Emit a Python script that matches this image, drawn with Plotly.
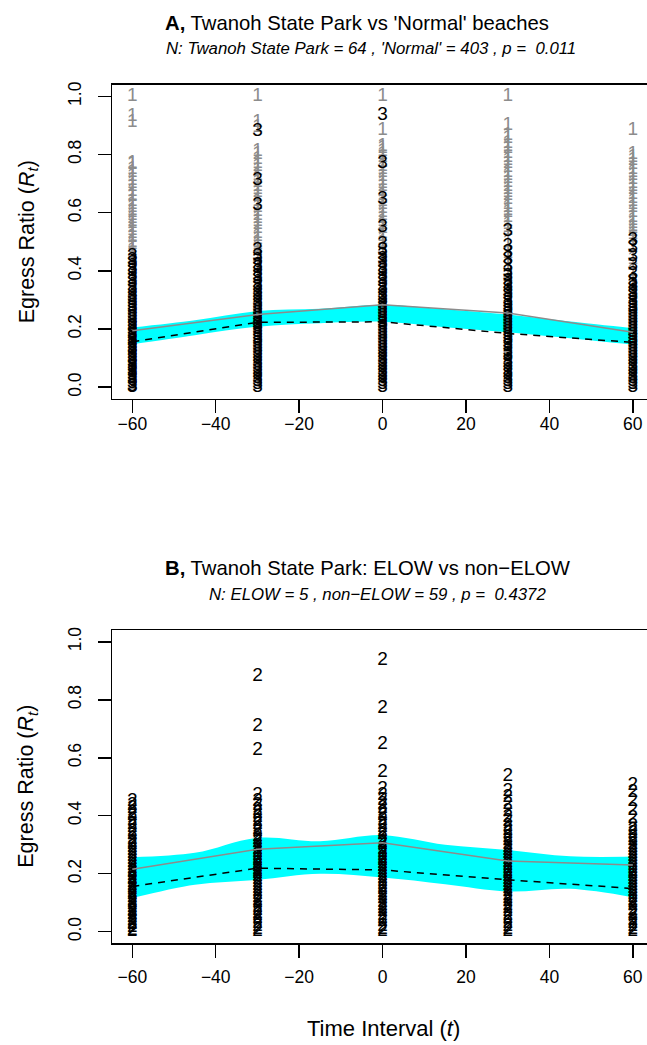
import plotly.graph_objects as go

# ---------------- data ----------------
times = [-60, -30, 0, 30, 60]
x_ticks = [-60, -40, -20, 0, 20, 40, 60]
y_ticks = [0.0, 0.2, 0.4, 0.6, 0.8, 1.0]
y_ticklabels = ["0.0", "0.2", "0.4", "0.6", "0.8", "1.0"]

n_twanoh = 64
n_normal = 403
p_A = "0.011"
n_elow = 5
n_nonelow = 59
p_B = "0.4372"

# 'Normal' beaches egress ratios (grey "1"), per time interval
normal_m60 = [1.00, 0.93, 0.91, 0.77, 0.765, 0.75, 0.74, 0.725, 0.71, 0.70, 0.69, 0.675, 0.66, 0.655,
              0.64, 0.63, 0.62, 0.61, 0.60, 0.59, 0.58, 0.57, 0.565, 0.55, 0.54, 0.53, 0.52, 0.515,
              0.50, 0.49, 0.48, 0.47, 0.46, 0.44, 0.42, 0.39, 0.36, 0.33, 0.30, 0.27, 0.24, 0.21,
              0.18, 0.15, 0.12, 0.09, 0.06, 0.03, 0.01]
normal_m30 = [1.00, 0.91, 0.895, 0.81, 0.80, 0.785, 0.77, 0.76, 0.745, 0.73, 0.72, 0.705, 0.69, 0.68,
              0.67, 0.655, 0.64, 0.63, 0.62, 0.605, 0.59, 0.58, 0.57, 0.56, 0.545, 0.53, 0.52, 0.51,
              0.50, 0.49, 0.48, 0.47, 0.45, 0.42, 0.38, 0.34, 0.30, 0.26, 0.22, 0.18, 0.14, 0.10,
              0.06, 0.02]
normal_0 = [1.00, 0.885, 0.83, 0.82, 0.81, 0.80, 0.79, 0.775, 0.76, 0.75, 0.74, 0.725, 0.71, 0.70,
            0.69, 0.675, 0.66, 0.65, 0.64, 0.63, 0.615, 0.60, 0.59, 0.58, 0.57, 0.56, 0.545, 0.53,
            0.52, 0.51, 0.50, 0.47, 0.43, 0.39, 0.35, 0.31, 0.27, 0.23, 0.19, 0.15, 0.11, 0.07, 0.03]
normal_30 = [1.00, 0.90, 0.865, 0.855, 0.84, 0.83, 0.82, 0.805, 0.79, 0.78, 0.77, 0.755, 0.74, 0.73,
             0.72, 0.705, 0.69, 0.68, 0.67, 0.66, 0.645, 0.63, 0.62, 0.61, 0.60, 0.585, 0.57, 0.56,
             0.55, 0.54, 0.50, 0.46, 0.42, 0.38, 0.34, 0.30, 0.26, 0.22, 0.18, 0.14, 0.10, 0.06, 0.02]
normal_60 = [0.885, 0.80, 0.79, 0.78, 0.765, 0.75, 0.74, 0.73, 0.715, 0.70, 0.69, 0.68, 0.665, 0.65,
             0.64, 0.63, 0.62, 0.60, 0.585, 0.575, 0.565, 0.555, 0.545, 0.535, 0.525, 0.515, 0.48,
             0.44, 0.40, 0.36, 0.32, 0.28, 0.24, 0.20, 0.16, 0.12, 0.08, 0.04, 0.01]

# Twanoh State Park egress ratios (black "3" in A, "2" in B), per time interval
twanoh_m60 = [0.00, 0.005, 0.015, 0.025, 0.03, 0.04, 0.05, 0.06, 0.07, 0.075, 0.085, 0.095, 0.10,
              0.11, 0.12, 0.13, 0.135, 0.145, 0.155, 0.16, 0.17, 0.18, 0.185, 0.195, 0.205, 0.21,
              0.22, 0.23, 0.24, 0.25, 0.26, 0.27, 0.28, 0.29, 0.30, 0.31, 0.32, 0.335, 0.345, 0.36,
              0.37, 0.385, 0.40, 0.41, 0.425, 0.435, 0.45]
twanoh_m30 = [0.00, 0.01, 0.02, 0.03, 0.045, 0.055, 0.065, 0.075, 0.085, 0.10, 0.11, 0.12, 0.13,
              0.14, 0.15, 0.16, 0.17, 0.18, 0.19, 0.20, 0.21, 0.215, 0.225, 0.235, 0.245, 0.255,
              0.265, 0.275, 0.285, 0.295, 0.31, 0.32, 0.33, 0.345, 0.355, 0.37, 0.38, 0.395, 0.41,
              0.42, 0.435, 0.45, 0.47, 0.625, 0.71, 0.88]
twanoh_0 = [0.00, 0.01, 0.02, 0.035, 0.045, 0.055, 0.07, 0.08, 0.09, 0.10, 0.115, 0.125, 0.135,
            0.145, 0.155, 0.165, 0.175, 0.185, 0.195, 0.205, 0.215, 0.225, 0.235, 0.245, 0.255,
            0.265, 0.275, 0.285, 0.30, 0.31, 0.32, 0.335, 0.345, 0.36, 0.37, 0.385, 0.40, 0.41,
            0.425, 0.44, 0.455, 0.47, 0.49, 0.55, 0.648, 0.77, 0.935]
twanoh_30 = [0.00, 0.01, 0.02, 0.03, 0.045, 0.055, 0.07, 0.08, 0.09, 0.105, 0.115, 0.125, 0.14,
             0.15, 0.16, 0.17, 0.18, 0.19, 0.20, 0.21, 0.22, 0.23, 0.24, 0.25, 0.26, 0.27, 0.28,
             0.29, 0.30, 0.315, 0.325, 0.34, 0.35, 0.365, 0.38, 0.395, 0.415, 0.44, 0.465, 0.485,
             0.535]
twanoh_60 = [0.00, 0.01, 0.02, 0.03, 0.04, 0.055, 0.065, 0.075, 0.09, 0.10, 0.11, 0.12, 0.13, 0.14,
             0.15, 0.16, 0.17, 0.18, 0.19, 0.20, 0.21, 0.22, 0.23, 0.24, 0.25, 0.26, 0.27, 0.28,
             0.29, 0.30, 0.315, 0.325, 0.34, 0.35, 0.365, 0.39, 0.42, 0.45, 0.48, 0.505]

normal_by_t = [normal_m60, normal_m30, normal_0, normal_30, normal_60]
twanoh_by_t = [twanoh_m60, twanoh_m30, twanoh_0, twanoh_30, twanoh_60]

# Panel A lines
A_normal_mean = [0.194, 0.250, 0.284, 0.255, 0.189]
A_twanoh_fit = [0.156, 0.223, 0.225, 0.185, 0.154]
band_t = [-60, -45, -30, -15, 0, 15, 30, 45, 60]
A_band_hi = [0.205, 0.230, 0.262, 0.270, 0.284, 0.268, 0.250, 0.226, 0.203]
A_band_lo = [0.148, 0.179, 0.208, 0.220, 0.225, 0.206, 0.189, 0.168, 0.146]

# Panel B lines
B_nonelow_mean = [0.215, 0.284, 0.307, 0.244, 0.230]
B_fit = [0.156, 0.219, 0.213, 0.179, 0.149]
B_band_hi = [0.257, 0.272, 0.324, 0.312, 0.333, 0.300, 0.282, 0.260, 0.259]
B_band_lo = [0.116, 0.162, 0.179, 0.200, 0.187, 0.164, 0.139, 0.148, 0.119]

# ---------------- layout geometry ----------------
W, H = 647, 1045
FONT = "Liberation Sans, Arial, Helvetica, sans-serif"
CYAN = "#00FFFF"
GREY = "#8C8C8C"
DIGIT = 19


def fx(px):
    return px / W


def fy(py):
    return 1 - py / H


xdom = [fx(112.3), 1.0]
ydomA = [fy(397), fy(82)]
ydomB = [fy(943), fy(629)]
xrange = [-64.8, 63.4]
yrange = [-0.04, 1.04]

fig = go.Figure()


def add_panel(xa, ya, band_hi, band_lo, mean_line, fit_line, label, grey_sets=None):
    fig.add_trace(go.Scatter(x=band_t, y=band_lo, mode="lines", line=dict(width=0, shape="spline"),
                             xaxis=xa, yaxis=ya, hoverinfo="skip", showlegend=False))
    fig.add_trace(go.Scatter(x=band_t, y=band_hi, mode="lines", line=dict(width=0, shape="spline"),
                             fill="tonexty", fillcolor=CYAN, xaxis=xa, yaxis=ya,
                             hoverinfo="skip", showlegend=False))
    if grey_sets is not None:
        for t, vals in zip(times, grey_sets):
            fig.add_trace(go.Scatter(x=[t] * len(vals), y=vals, mode="text", text="1",
                                     textposition="middle center",
                                     textfont=dict(family=FONT, size=DIGIT, color=GREY),
                                     xaxis=xa, yaxis=ya, hoverinfo="skip", showlegend=False))
    for t, vals in zip(times, twanoh_by_t):
        fig.add_trace(go.Scatter(x=[t] * len(vals), y=vals, mode="text", text=label,
                                 textposition="middle center",
                                 textfont=dict(family=FONT, size=DIGIT, color="black"),
                                 xaxis=xa, yaxis=ya, hoverinfo="skip", showlegend=False))
    fig.add_trace(go.Scatter(x=times, y=mean_line, mode="lines", line=dict(color=GREY, width=1.5),
                             xaxis=xa, yaxis=ya, hoverinfo="skip", showlegend=False))
    fig.add_trace(go.Scatter(x=times, y=fit_line, mode="lines",
                             line=dict(color="black", width=1.5, dash="7px,6px"),
                             xaxis=xa, yaxis=ya, hoverinfo="skip", showlegend=False))


add_panel("x", "y", A_band_hi, A_band_lo, A_normal_mean, A_twanoh_fit, "3", normal_by_t)
add_panel("x2", "y2", B_band_hi, B_band_lo, B_nonelow_mean, B_fit, "2")

xaxis_common = dict(domain=xdom, range=xrange, tickvals=x_ticks, ticks="outside", ticklen=13,
                    tickwidth=1.5, tickcolor="black", showline=True, linewidth=1.5,
                    linecolor="black", mirror=True, showgrid=False, zeroline=False,
                    tickfont=dict(family=FONT, size=17.5, color="black"), fixedrange=True)
yaxis_common = dict(range=yrange, tickvals=y_ticks, ticktext=y_ticklabels, tickangle=-90,
                    ticks="outside", ticklen=13, tickwidth=1.5, tickcolor="black", showline=True,
                    linewidth=1.5, linecolor="black", mirror=False, showgrid=False,
                    zeroline=False, tickfont=dict(family=FONT, size=17.5, color="black"),
                    ticklabelstandoff=10, fixedrange=True)

fig.update_layout(
    width=W, height=H,
    margin=dict(l=0, r=0, t=0, b=0),
    paper_bgcolor="white", plot_bgcolor="white",
    showlegend=False,
    xaxis=dict(**xaxis_common, anchor="y", ticklabelstandoff=-4),
    yaxis=dict(**yaxis_common, domain=ydomA, anchor="x"),
    xaxis2=dict(**xaxis_common, anchor="y2", ticklabelstandoff=4),
    yaxis2=dict(**yaxis_common, domain=ydomB, anchor="x2"),
)


def ann(text, px, py, size, xanchor="left", angle=0):
    fig.add_annotation(text=text, x=fx(px), y=fy(py), xref="paper", yref="paper",
                       xanchor=xanchor, yanchor="middle", showarrow=False, textangle=angle,
                       font=dict(family=FONT, size=size, color="black"))


ann("<b>A,</b> Twanoh State Park vs 'Normal' beaches", 163, 20, 20.3)
ann(f"<i>N: Twanoh State Park = {n_twanoh} , 'Normal' = {n_normal} , p = \u00a0{p_A}</i>",
    164, 46, 16.8)
ann("<b>B,</b> Twanoh State Park: ELOW vs non\u2212ELOW", 163, 567, 20.3)
ann(f"<i>N: ELOW = {n_elow} , non\u2212ELOW = {n_nonelow} , p = \u00a0{p_B}</i>", 207, 593, 16.8)
ann("Egress Ratio (<i>R</i><sub><i>t</i></sub>)", 28, 240, 21.5, xanchor="center", angle=-90)
ann("Egress Ratio (<i>R</i><sub><i>t</i></sub>)", 28, 786, 21.5, xanchor="center", angle=-90)
ann("Time Interval (<i>t</i>)", 383, 1028, 22, xanchor="center")

# the page body has a default 8px margin; remove it so the figure fills the window exactly
fig.write_html("out.html",
               config={"displayModeBar": False, "staticPlot": True},
               post_script="document.body.style.margin='0px';"
                           "document.body.style.overflow='hidden';")
